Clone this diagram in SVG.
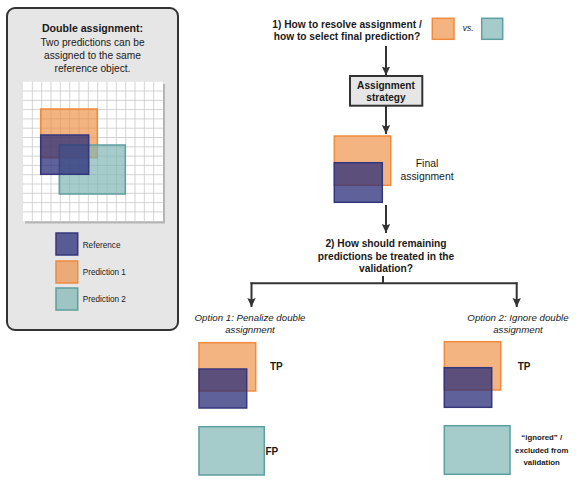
<svg xmlns="http://www.w3.org/2000/svg" width="581" height="482" viewBox="0 0 581 482">
<style>
text{font-family:"Liberation Sans",Arial,sans-serif;fill:#1a1a1a}
.b{font-weight:bold}
.i{font-style:italic}
.m{text-anchor:middle}
.or{fill:#ee8c3f;fill-opacity:0.65;stroke:#f08a3c;stroke-width:1.5}
.bl{fill:#2a2e78;fill-opacity:0.75;stroke:#34377c;stroke-width:1.5}
.te{fill:#7fb5b3;fill-opacity:0.7;stroke:#5e9fa0;stroke-width:1.5}
.ln{fill:none;stroke:#333;stroke-width:2}
.g line{stroke:#c9c9c9;stroke-width:0.8}
</style>
<defs>
<marker id="ah" markerUnits="userSpaceOnUse" markerWidth="10" markerHeight="10" viewBox="0 0 10 10" refX="9" refY="5" orient="auto">
<path d="M0,0.8 L9,5 L0,9.2 L1.5,5 z" fill="#333"/>
</marker>
</defs>

<g id="panel">
<rect x="7" y="8" width="171" height="322" rx="8" fill="#e6e6e6" stroke="#333" stroke-width="2"/>
<text class="b m" x="92.5" y="32" font-size="10.6">Double assignment:</text>
<text class="m" x="92.5" y="45.7" font-size="10.2">Two predictions can be</text>
<text class="m" x="92.5" y="58.7" font-size="10.2">assigned to the same</text>
<text class="m" x="92.5" y="71.7" font-size="10.2">reference object.</text>
<rect x="25" y="84" width="140" height="139.5" fill="#b5b5b5"/>
<rect x="23" y="81.7" width="140" height="139.5" fill="#fff"/>
<g class="g">
<line x1="32.33" y1="81.7" x2="32.33" y2="221.2"/><line x1="41.67" y1="81.7" x2="41.67" y2="221.2"/><line x1="51" y1="81.7" x2="51" y2="221.2"/><line x1="60.33" y1="81.7" x2="60.33" y2="221.2"/><line x1="69.67" y1="81.7" x2="69.67" y2="221.2"/><line x1="79" y1="81.7" x2="79" y2="221.2"/><line x1="88.33" y1="81.7" x2="88.33" y2="221.2"/><line x1="97.67" y1="81.7" x2="97.67" y2="221.2"/><line x1="107" y1="81.7" x2="107" y2="221.2"/><line x1="116.33" y1="81.7" x2="116.33" y2="221.2"/><line x1="125.67" y1="81.7" x2="125.67" y2="221.2"/><line x1="135" y1="81.7" x2="135" y2="221.2"/><line x1="144.33" y1="81.7" x2="144.33" y2="221.2"/><line x1="153.67" y1="81.7" x2="153.67" y2="221.2"/>
<line x1="23" y1="91" x2="163" y2="91"/><line x1="23" y1="100.3" x2="163" y2="100.3"/><line x1="23" y1="109.6" x2="163" y2="109.6"/><line x1="23" y1="118.9" x2="163" y2="118.9"/><line x1="23" y1="128.2" x2="163" y2="128.2"/><line x1="23" y1="137.5" x2="163" y2="137.5"/><line x1="23" y1="146.8" x2="163" y2="146.8"/><line x1="23" y1="156.1" x2="163" y2="156.1"/><line x1="23" y1="165.4" x2="163" y2="165.4"/><line x1="23" y1="174.7" x2="163" y2="174.7"/><line x1="23" y1="184" x2="163" y2="184"/><line x1="23" y1="193.3" x2="163" y2="193.3"/><line x1="23" y1="202.6" x2="163" y2="202.6"/><line x1="23" y1="211.9" x2="163" y2="211.9"/>
</g>
<rect class="or" x="40.7" y="109" width="56.6" height="48.7"/>
<rect class="te" x="59.3" y="145" width="66" height="49"/>
<rect class="bl" x="40.7" y="135" width="48" height="39.3"/>
<rect class="bl" x="56" y="233" width="21.7" height="22"/>
<text x="82.7" y="248" font-size="8.2">Reference</text>
<rect class="or" x="56" y="261" width="21.7" height="22"/>
<text x="82.7" y="274.6" font-size="8.2">Prediction 1</text>
<rect class="te" x="56" y="288" width="21.7" height="22"/>
<text x="82.7" y="302" font-size="8.2">Prediction 2</text>
</g>

<g id="question1">
<text class="b m" x="347" y="27.5" font-size="10.2">1) How to resolve assignment /</text>
<text class="b m" x="347" y="39.7" font-size="10.2">how to select final prediction?</text>
<rect class="or" x="432.3" y="18.3" width="21.7" height="21"/>
<text class="i" x="462.7" y="31" font-size="8.5">vs.</text>
<rect class="te" x="481.7" y="18.3" width="21" height="21"/>
</g>

<g id="strategy">
<rect x="350" y="76" width="72.3" height="29.7" fill="#e6e6e6" stroke="#333" stroke-width="2"/>
<text class="b m" x="386" y="88.5" font-size="10.1">Assignment</text>
<text class="b m" x="386" y="100.7" font-size="10.1">strategy</text>
</g>

<g id="final">
<rect class="or" x="334.3" y="136" width="56.4" height="49.3"/>
<rect class="bl" x="334.3" y="162.7" width="48" height="39.6"/>
<text class="m" x="427" y="167" font-size="10.4">Final</text>
<text class="m" x="427" y="179.7" font-size="10.4">assignment</text>
</g>

<g id="question2">
<text class="b m" x="386" y="247" font-size="10.2">2) How should remaining</text>
<text class="b m" x="386" y="259.6" font-size="10.2">predictions be treated in the</text>
<text class="b m" x="386" y="272" font-size="10.2">validation?</text>
</g>

<g id="option1">
<text class="i m" x="250" y="320.5" font-size="9.7">Option 1: Penalize double</text>
<text class="i m" x="250" y="333" font-size="9.7">assignment</text>
<rect class="or" x="199" y="342.7" width="56.7" height="48.3"/>
<rect class="bl" x="199" y="369" width="47.7" height="39"/>
<text class="b" x="270" y="370.3" font-size="10">TP</text>
<rect class="te" x="199" y="426.7" width="65.3" height="48.3"/>
<text class="b" x="265.5" y="455.3" font-size="10">FP</text>
</g>

<g id="option2">
<text class="i m" x="518" y="320.5" font-size="9.7">Option 2: Ignore double</text>
<text class="i m" x="518" y="333" font-size="9.7">assignment</text>
<rect class="or" x="444.3" y="341.7" width="56.4" height="48.3"/>
<rect class="bl" x="444.3" y="367.7" width="47.4" height="39.6"/>
<text class="b" x="517.7" y="369.6" font-size="10">TP</text>
<rect class="te" x="444.3" y="425.7" width="65.7" height="48.6"/>
<text class="b m" x="541.7" y="440" font-size="7.8">“ignored” /</text>
<text class="b m" x="541.7" y="452.6" font-size="7.8">excluded from</text>
<text class="b m" x="541.7" y="465" font-size="7.8">validation</text>
</g>

<g id="connectors">
<path class="ln" d="M386,46 V75.5" marker-end="url(#ah)"/>
<path class="ln" d="M386,106 V134" marker-end="url(#ah)"/>
<path class="ln" d="M386,205 V233" marker-end="url(#ah)"/>
<path class="ln" d="M383,276 V283.3"/>
<path class="ln" d="M250.5,283.3 H517.5"/>
<path class="ln" d="M251.5,282.3 V307" marker-end="url(#ah)"/>
<path class="ln" d="M516.7,282.3 V307" marker-end="url(#ah)"/>
</g>
</svg>
